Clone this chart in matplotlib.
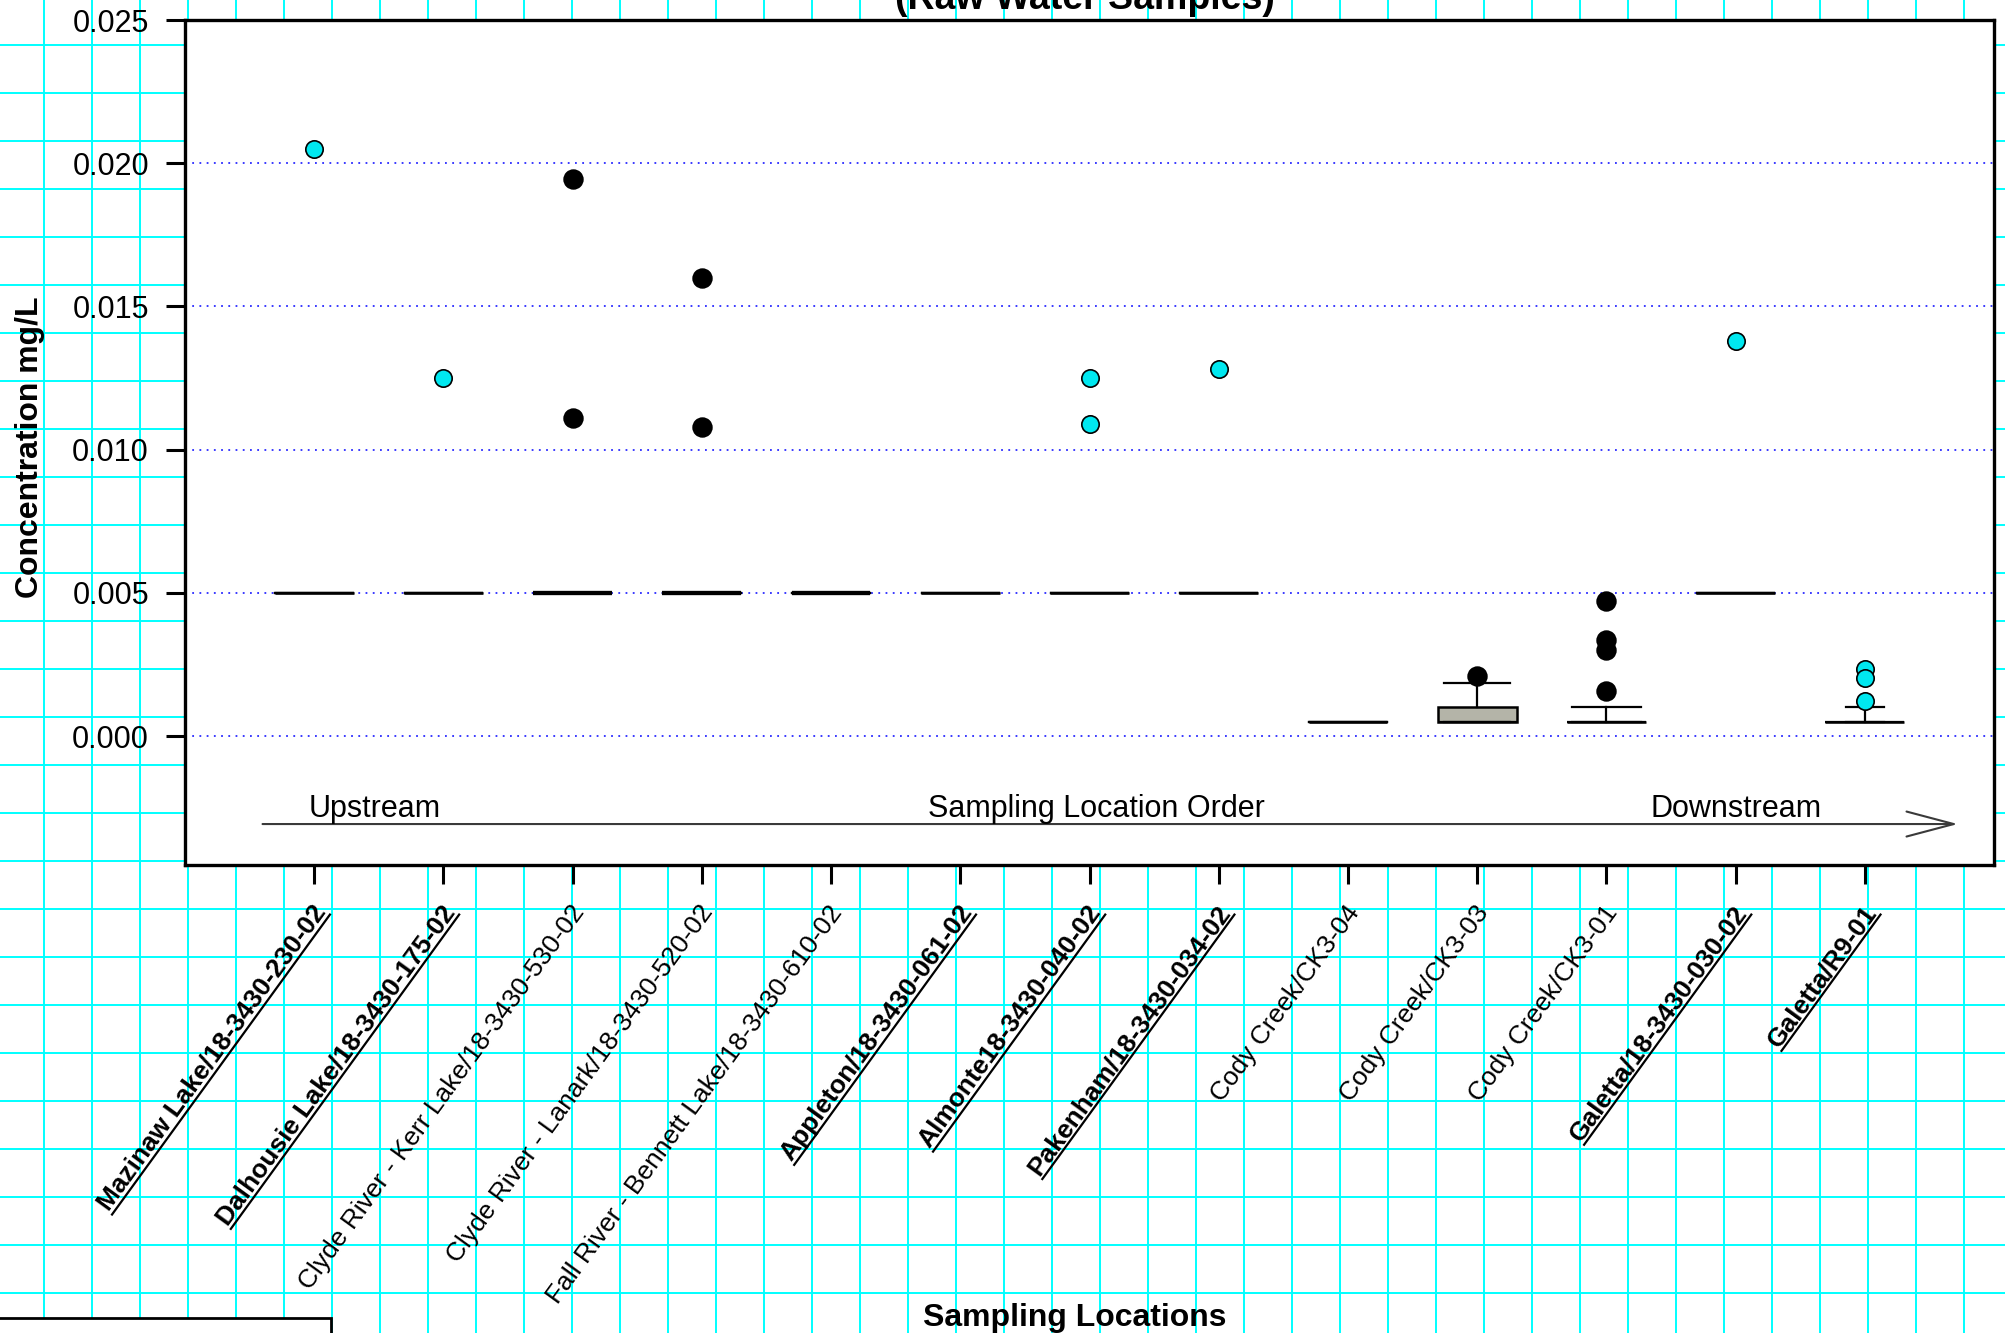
import numpy as np
import matplotlib
matplotlib.use('Agg')
import matplotlib.pyplot as plt
from matplotlib.transforms import offset_copy
from matplotlib.lines import Line2D
from matplotlib.patches import FancyArrowPatch, Rectangle

plt.rcParams['font.family'] = ['Liberation Sans', 'DejaVu Sans']

# sampling locations, upstream -> downstream
locations = ['Mazinaw Lake/18-3430-230-02', 'Dalhousie Lake/18-3430-175-02',
             'Clyde River - Kerr Lake/18-3430-530-02', 'Clyde River - Lanark/18-3430-520-02',
             'Fall River - Bennett Lake/18-3430-610-02', 'Appleton/18-3430-061-02',
             'Almonte18-3430-040-02', 'Pakenham/18-3430-034-02', 'Cody Creek/CK3-04',
             'Cody Creek/CK3-03', 'Cody Creek/CK3-01', 'Galetta/18-3430-030-02', 'Galetta/R9-01']
bold_label = [1, 1, 0, 0, 0, 1, 1, 1, 0, 0, 0, 1, 1]

# box plot stats, mg/L
q1 = [0.005, 0.005, 0.005, 0.005, 0.005, 0.005, 0.005, 0.005, 0.0005, 0.0005, 0.0005, 0.005, 0.0005]
median = [0.005, 0.005, 0.005, 0.005, 0.005, 0.005, 0.005, 0.005, 0.0005, 0.0005, 0.0005, 0.005, 0.0005]
q3 = [0.005, 0.005, 0.005, 0.005, 0.005, 0.005, 0.005, 0.005, 0.0005, 0.0010, 0.0005, 0.005, 0.0005]
whisker_lo = [0.005, 0.005, 0.005, 0.005, 0.005, 0.005, 0.005, 0.005, 0.0005, 0.0005, 0.0005, 0.005, 0.0005]
whisker_hi = [0.005, 0.005, 0.005, 0.005, 0.005, 0.005, 0.005, 0.005, 0.0005, 0.00186, 0.0010, 0.005, 0.0010]
outliers = [[0.0205], [0.0125], [0.01945, 0.0111], [0.0160, 0.0108], [], [],
            [0.0125, 0.0109], [0.0128], [], [0.0021], [0.0047, 0.00337, 0.00302, 0.00157],
            [0.0138], [0.00233, 0.00204, 0.00122]]
outlier_color = ['#00e8f0', '#00e8f0', 'black', 'black', 'black', 'black', '#00e8f0',
                 '#00e8f0', 'black', 'black', 'black', '#00e8f0', '#00e8f0']
cap_width = [0.6, 0.6, 0.6, 0.6, 0.6, 0.6, 0.6, 0.6, 0.6, 0.51, 0.53, 0.6, 0.29]
thick_median = [2, 3, 4]

W, H = 2005, 1333
fig = plt.figure(figsize=(W / 100, H / 100), dpi=100)

# graph paper background
bg = fig.add_axes([0, 0, 1, 1], zorder=-1)
bg.set_xlim(0, W)
bg.set_ylim(H, 0)
bg.axis('off')
for x in np.arange(44, W, 48):
    bg.axvline(x, color='#00ffff', lw=1.4)
for y in np.arange(45, H, 48):
    bg.axhline(y, color='#00ffff', lw=1.4)
bg.add_patch(Rectangle((-5, 1318), 336, 30, facecolor='white', edgecolor='black', lw=2, zorder=3))

ax = fig.add_axes([185 / W, 1 - 865 / H, (1994 - 185) / W, (865 - 20) / H], zorder=1)
ax.set_facecolor('white')

stats = []
for i in range(len(locations)):
    stats.append(dict(med=median[i], q1=q1[i], q3=q3[i], whislo=whisker_lo[i],
                      whishi=whisker_hi[i], fliers=outliers[i]))

res = ax.bxp(stats, positions=range(len(locations)), widths=0.61, capwidths=cap_width,
             patch_artist=True,
             boxprops=dict(facecolor='#b4b4a8', edgecolor='black', linewidth=1.8),
             medianprops=dict(color='black', linewidth=1.6),
             whiskerprops=dict(color='black', linewidth=1.6),
             capprops=dict(color='black', linewidth=1.6),
             flierprops=dict(marker='o', markersize=12.5, markeredgecolor='black',
                             markeredgewidth=1.2, linestyle='none'))
for i, fl in enumerate(res['fliers']):
    fl.set_markerfacecolor(outlier_color[i])
    if outlier_color[i] == 'black':
        fl.set_markersize(13.5)
for i in thick_median:
    res['medians'][i].set_linewidth(3)
    res['boxes'][i].set_linewidth(3)

ax.set_xlim(-1, 13)
ax.set_ylim(-0.0045, 0.025)
yt = np.arange(0, 0.0251, 0.005)
ax.set_yticks(yt)
ax.set_yticklabels(['%.3f' % v for v in yt], fontsize=22)
ax.set_xticks(range(len(locations)))
ax.set_xticklabels([])
ax.tick_params(axis='both', direction='out', length=14, width=2.2, pad=12)
ax.yaxis.grid(True, linestyle=(0, (1, 3)), color='#2a2aff', lw=1.3)
for s in ax.spines.values():
    s.set_linewidth(2.4)

# sampling order annotation
ax.text(-0.04, -0.00284, 'Upstream', fontsize=22, ha='left', va='baseline')
ax.text(6.05, -0.00284, 'Sampling Location Order', fontsize=22, ha='center', va='baseline')
ax.text(10.34, -0.00284, 'Downstream', fontsize=22, ha='left', va='baseline')
ax.add_patch(FancyArrowPatch((-0.40, -0.00307), (12.72, -0.00307),
                             arrowstyle='->,head_length=34,head_width=9', mutation_scale=1,
                             shrinkA=0, shrinkB=0, color='#3a3a3a', lw=1.5))

# rotated location labels
ang = 54
labels = []
for i, name in enumerate(locations):
    tr = offset_copy(ax.get_xaxis_transform(), fig=fig, x=9, y=-34, units='points')
    t = ax.text(i, 0, name, transform=tr, rotation=ang, rotation_mode='anchor',
                ha='right', va='baseline', fontsize=19,
                fontweight='bold' if bold_label[i] else 'normal', clip_on=False)
    labels.append(t)

# underline the bold labels
fig.canvas.draw()
rend = fig.canvas.get_renderer()
th = np.deg2rad(ang)
u = np.array([np.cos(th), np.sin(th)])
n = np.array([np.sin(th), -np.cos(th)])
inv = fig.transFigure.inverted()
for i, t in enumerate(labels):
    if not bold_label[i]:
        continue
    w, h, d = rend.get_text_width_height_descent(t.get_text(), t.get_fontproperties(), ismath=False)
    p = np.array(t.get_transform().transform(t.get_position()))
    end = p + n * 4
    start = end - u * w
    pts = inv.transform(np.array([start, end]))
    fig.add_artist(Line2D(pts[:, 0], pts[:, 1], color='black', lw=1.6))

fig.text(30 / W, 1 - 447 / H, 'Concentration mg/L', rotation=90, fontsize=23,
         fontweight='bold', ha='center', va='center')
fig.text(1075 / W, 1 - 1326 / H, 'Sampling Locations', fontsize=23, fontweight='bold',
         ha='center', va='baseline')
fig.text(1085 / W, 1 - 9 / H, '(Raw Water Samples)', fontsize=27, fontweight='bold',
         ha='center', va='baseline')

fig.savefig('out.png', dpi=100)
